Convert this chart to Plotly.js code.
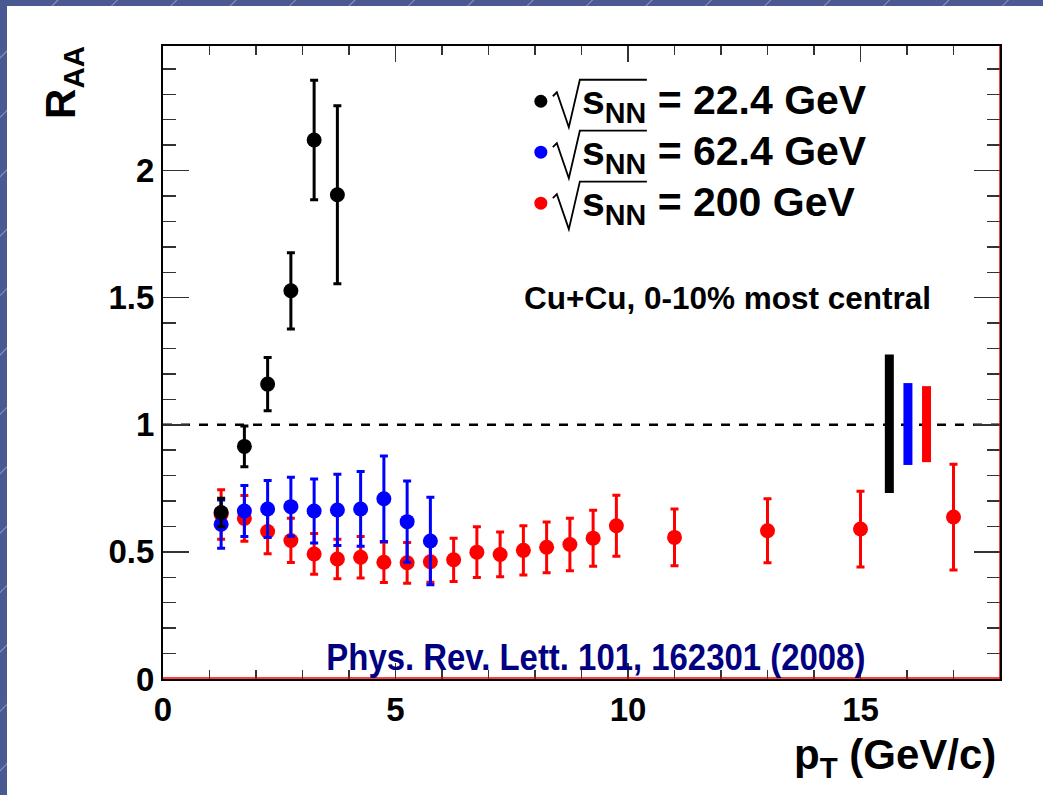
<!DOCTYPE html>
<html>
<head>
<meta charset="utf-8">
<script src="https://cdn.plot.ly/plotly-3.0.1.min.js"></script>
<style>
  html, body { margin:0; padding:0; width:1043px; height:795px; overflow:hidden; }
  body {
    background-color:#4b5993;
    background-image: repeating-linear-gradient(135deg, #4b5993 0px, #4b5993 40px, #8a95c6 41px, #4b5993 42px);
    position:relative;
  }
  #chart { position:absolute; left:7px; top:6px; width:1036px; height:789px; background:#fff; }
</style>
</head>
<body>
<div id="chart"></div>
<script>
// ---- data ----
const ptBlack  = [1.25, 1.75, 2.25, 2.75, 3.25, 3.75];
const raaBlack = [0.655, 0.915, 1.160, 1.527, 2.120, 1.905];
const errBlack = [0.056, 0.080, 0.105, 0.150, 0.235, 0.350];

const ptBlue  = [1.25, 1.75, 2.25, 2.75, 3.25, 3.75, 4.25, 4.75, 5.25, 5.75];
const raaBlue = [0.609, 0.661, 0.669, 0.678, 0.661, 0.665, 0.669, 0.709, 0.619, 0.543];
const errBlue = [0.095, 0.100, 0.112, 0.116, 0.126, 0.140, 0.147, 0.168, 0.160, 0.172];

const ptRed  = [1.25, 1.75, 2.25, 2.75, 3.25, 3.75, 4.25, 4.75, 5.25, 5.75, 6.25, 6.75, 7.25, 7.75, 8.25, 8.75, 9.25, 9.75, 11, 13, 15, 17];
const raaRed = [0.647, 0.632, 0.580, 0.545, 0.492, 0.472, 0.479, 0.459, 0.457, 0.461, 0.469, 0.499, 0.490, 0.506, 0.518, 0.529, 0.554, 0.603, 0.557, 0.583, 0.590, 0.637];
const errRed = [0.097, 0.090, 0.087, 0.087, 0.080, 0.078, 0.082, 0.079, 0.080, 0.080, 0.085, 0.100, 0.088, 0.097, 0.100, 0.103, 0.110, 0.120, 0.112, 0.126, 0.149, 0.208];

// normalisation uncertainty bands (black, blue, red)
const normX  = [15.62, 16.02, 16.42];
const normLo = [0.732, 0.842, 0.853];
const normHi = [1.276, 1.164, 1.152];

const energies = ['22.4', '62.4', '200'];
const seriesColors = ['#000000', '#0000ff', '#ff0000'];
const xTickVals = [0, 5, 10, 15];
const xTickText = ['0', '5', '10', '15'];
const yTickVals = [0, 0.5, 1, 1.5, 2];
const yTickText = ['0', '0.5', '1', '1.5', '2'];

const FONT = '"Liberation Sans", Arial, Helvetica, sans-serif';

// pixel -> paper helpers for the hand-drawn legend decorations
const PL = 163.3, PR = 1000, PT = 45.7, PB = 679.3;
const px2x = p => (p - PL) / (PR - PL);
const px2y = p => (PB - p) / (PB - PT);

function series(x, y, e, color, name) {
  return {
    type: 'scatter', mode: 'markers', x: x, y: y, name: name, showlegend: false,
    marker: { color: color, size: 15, symbol: 'circle' },
    error_y: { type: 'data', array: e, visible: true, color: color, thickness: 3, width: 4 },
    cliponaxis: false
  };
}

const traces = [];
normX.forEach((x, i) => {
  traces.push({
    type: 'scatter', mode: 'lines', x: [x, x], y: [normLo[i], normHi[i]],
    line: { color: seriesColors[i], width: 9 }, showlegend: false, hoverinfo: 'skip'
  });
});
traces.push(series(ptRed, raaRed, errRed, seriesColors[2], '√sNN = 200 GeV'));
traces.push(series(ptBlue, raaBlue, errBlue, seriesColors[1], '√sNN = 62.4 GeV'));
traces.push(series(ptBlack, raaBlack, errBlack, seriesColors[0], '√sNN = 22.4 GeV'));

const shapes = [
  { type: 'line', xref: 'x', yref: 'y', x0: 0, x1: 18, y0: 1, y1: 1, layer: 'below',
    line: { color: '#000', width: 2.5, dash: 'dash' } },
  { type: 'line', xref: 'x', yref: 'y', x0: 0, x1: 18, y0: 0.004, y1: 0.004, layer: 'above',
    line: { color: '#ff0000', width: 1.5 } },
  { type: 'line', xref: 'x', yref: 'y', x0: 18, x1: 18, y0: 0, y1: 2.49, layer: 'above',
    line: { color: '#ff0000', width: 1.5 } }
];

const annotations = [
  { xref: 'paper', yref: 'paper', x: px2x(64), y: px2y(82), textangle: -90,
    text: 'R<sub>AA</sub>', showarrow: false, xanchor: 'center', yanchor: 'middle',
    font: { family: FONT, size: 42, weight: 'bold', color: '#000' } },
  { xref: 'paper', yref: 'paper', x: px2x(998), y: px2y(758), xanchor: 'right', yanchor: 'middle',
    text: 'p<sub>T</sub> (GeV/c)', showarrow: false,
    font: { family: FONT, size: 42, weight: 'bold', color: '#000' } },
  { xref: 'x', yref: 'y', x: 12.13, y: 1.50, xanchor: 'center', yanchor: 'middle',
    text: 'Cu+Cu, 0-10% most central', showarrow: false,
    font: { family: FONT, size: 31.5, weight: 'bold', color: '#000' } },
  { xref: 'x', yref: 'y', x: 9.31, y: 0.084, xanchor: 'center', yanchor: 'middle',
    text: 'Phys. Rev. Lett. 101, 162301 (2008)', showarrow: false, name: 'citation',
    font: { family: FONT, size: 36, weight: 'bold', color: '#000080' } }
];

// legend: dot + radical + label for each energy
const LEG_DY = 51;
energies.forEach((en, i) => {
  const dy = i * LEG_DY;
  shapes.push({ type: 'circle', xref: 'paper', yref: 'paper',
    xsizemode: 'pixel', ysizemode: 'pixel',
    xanchor: px2x(541), yanchor: px2y(101 + dy), x0: -6.5, x1: 6.5, y0: -6.5, y1: 6.5,
    fillcolor: seriesColors[i], line: { width: 0 } });
  const pts = [[553, 96], [557, 92], [569, 127], [580, 79.5], [647, 79.5]];
  shapes.push({ type: 'path', xref: 'paper', yref: 'paper',
    path: 'M' + pts.map(p => px2x(p[0]) + ',' + px2y(p[1] + dy)).join(' L'),
    line: { color: '#000', width: 1.8 } });
  annotations.push({ xref: 'paper', yref: 'paper', x: px2x(580), y: px2y(103 + dy),
    xanchor: 'left', yanchor: 'middle', showarrow: false,
    text: 's<sub>NN</sub> = ' + en + ' GeV',
    font: { family: FONT, size: 41, weight: 'bold', color: '#000' } });
});

const layout = {
  width: 1036, height: 789,
  margin: { l: 156, r: 43, t: 40, b: 116 },
  paper_bgcolor: '#ffffff', plot_bgcolor: '#ffffff',
  font: { family: FONT, color: '#000' },
  showlegend: false,
  xaxis: {
    range: [0, 18], showgrid: false, zeroline: false,
    showline: true, linecolor: '#000', linewidth: 2, mirror: 'allticks',
    ticks: 'inside', ticklen: 16, tickwidth: 1.5, tickcolor: '#333',
    tickvals: xTickVals, ticktext: xTickText,
    tickfont: { family: FONT, size: 33, weight: 'bold', color: '#000' },
    minor: { dtick: 1, ticks: 'inside', ticklen: 9, tickwidth: 1.5, tickcolor: '#333', showgrid: false }
  },
  yaxis: {
    range: [0, 2.49], showgrid: false, zeroline: false,
    showline: true, linecolor: '#000', linewidth: 2, mirror: 'allticks',
    ticks: 'inside', ticklen: 26, tickwidth: 1.5, tickcolor: '#333',
    tickvals: yTickVals, ticktext: yTickText,
    tickfont: { family: FONT, size: 33, weight: 'bold', color: '#000' },
    minor: { dtick: 0.1, ticks: 'inside', ticklen: 13, tickwidth: 1.5, tickcolor: '#333', showgrid: false }
  },
  shapes: shapes,
  annotations: annotations
};

Plotly.newPlot('chart', traces, layout, { displayModeBar: false, staticPlot: true }).then(gd => {
  // the reference uses a condensed face for the citation: squeeze it to its width
  document.querySelectorAll('#chart .annotation-text').forEach(t => {
    if (t.textContent.indexOf('Phys. Rev.') === 0) {
      t.setAttribute('textLength', '539');
      t.setAttribute('lengthAdjust', 'spacingAndGlyphs');
    }
  });
});
</script>
</body>
</html>
